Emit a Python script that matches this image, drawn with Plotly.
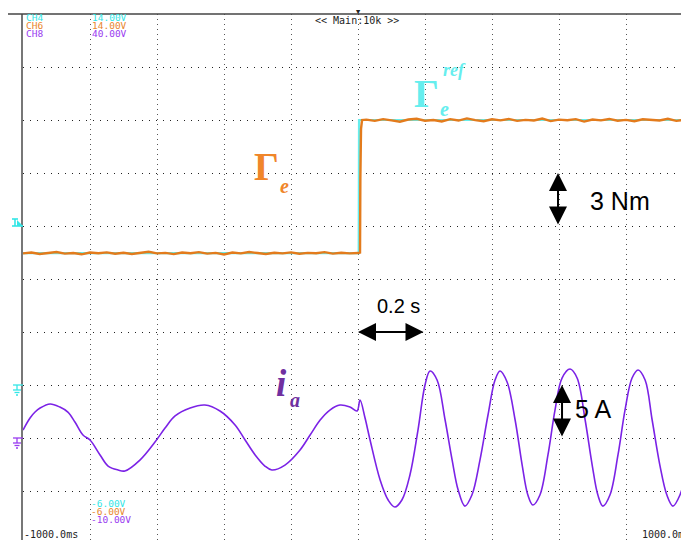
import plotly.graph_objects as go

# time base in ms (200 ms / div, 10 div); torque sampled every 25 ms
t_torque = list(range(-1000, 1, 25)) + [6, 7, 9, 12] + list(range(25, 976, 25)) + [988]
torque = ([-1.55, -1.50, -1.58, -1.52, -1.47, -1.56, -1.53, -1.60, -1.50, -1.54, -1.49,
           -1.57, -1.51, -1.58, -1.53, -1.46, -1.55, -1.52, -1.59, -1.50, -1.54, -1.48,
           -1.56, -1.52, -1.61, -1.50, -1.55, -1.47, -1.53, -1.58, -1.51, -1.55, -1.49,
           -1.57, -1.52, -1.54, -1.48, -1.56, -1.51, -1.55, -1.53]
          + [-1.50, 2.7, 5.5, 6.0]
          + [6.02, 5.95, 6.05, 5.98, 5.90, 6.03, 6.07, 5.96, 6.00, 5.92, 6.05, 5.97, 6.09,
             5.99, 5.93, 6.04, 5.98, 6.06, 5.95, 6.01, 5.97, 6.08, 5.94, 6.02, 5.99, 6.05,
             5.91, 6.03, 5.98, 6.06, 5.96, 6.01, 5.93, 6.04, 6.00, 5.97, 6.07, 5.95, 6.02,
             5.98])

t_ref = [-1000, 2, 3, 988]
torque_ref = [-1.53, -1.53, 6.0, 6.0]

t_current = [-1000, -979, -964, -949, -919, -890, -866, -845, -821, -800, -770, -746, -716,
             -696, -651, -606, -576, -546, -501, -457, -412, -367, -337, -307, -278, -257,
             -218, -173, -143, -113, -84, -54, -24, -3, 6, 21, 36, 66, 90, 110, 131, 155, 179,
             200, 215, 236, 260, 281, 299, 319, 340, 364, 388, 409, 424, 445, 469, 490, 507,
             522, 543, 567, 588, 609, 633, 654, 678, 699, 716, 731, 752, 776, 797, 818, 836,
             857, 878, 901, 922, 940, 961, 988]
current = [0.75, 1.89, 2.45, 2.83, 3.21, 2.92, 2.45, 1.51, 0.28, -0.19, -1.60, -2.64, -3.02,
           -3.11, -2.08, -0.38, 0.94, 2.08, 2.83, 3.11, 2.55, 1.23, -0.19, -1.60, -2.64, -3.02,
           -2.55, -1.13, 0.28, 1.70, 2.64, 3.11, 2.92, 2.55, 3.58, 1.89, -0.19, -3.96, -5.85,
           -6.51, -5.85, -3.49, 0.75, 5.00, 6.32, 5.47, 1.70, -2.08, -4.91, -6.42, -5.38, -2.08,
           2.17, 5.47, 6.32, 5.28, 1.70, -2.55, -5.38, -6.32, -5.38, -1.60, 2.64, 5.66, 6.51,
           5.66, 1.70, -2.55, -5.38, -6.42, -5.38, -1.60, 2.64, 5.66, 6.42, 5.47, 1.70, -2.55,
           -5.38, -6.42, -5.38, -2.08]

ch_names = ["CH4", "CH6", "CH8"]
ch_top = ["14.00V", "14.00V", "40.00V"]
ch_bottom = ["-6.00V", "-6.00V", "-10.00V"]
ch_colors = ["#33e6e6", "#e8862e", "#9a3cf0"]

# the page body adds an 8px margin, so the figure is shrunk by that much
OFF = 8
W, H = 689 - OFF, 540 - OFF
L, T = 23 - OFF, 14 - OFF


def px(x):
    return (x - OFF - L) / (W - L)


def py(y):
    return (H - (y - OFF)) / (H - T)


def label(text, x, y, size, color, family="Liberation Sans", xanchor="center"):
    return dict(text=text, x=px(x), y=py(y), xref="paper", yref="paper",
                xanchor=xanchor, yanchor="middle", showarrow=False,
                font=dict(family=family, size=size, color=color))


def seg(x0, y0, x1, y1, color, width=1.3):
    return dict(type="line", xref="paper", yref="paper", x0=px(x0), y0=py(y0),
                x1=px(x1), y1=py(y1), line=dict(color=color, width=width))


fig = go.Figure()
fig.add_trace(go.Scatter(x=t_ref, y=torque_ref, mode="lines",
                         line=dict(color="#66eeee", width=2.2), yaxis="y"))
fig.add_trace(go.Scatter(x=t_torque, y=torque, mode="lines",
                         line=dict(color="#e37b1c", width=2.4), yaxis="y"))
fig.add_trace(go.Scatter(x=t_current, y=current, mode="lines", line_shape="spline",
                         line=dict(color="#7b22e6", width=1.6), yaxis="y2"))

fig.update_layout(
    width=W, height=H,
    margin=dict(l=L, r=0, t=T, b=0, autoexpand=False),
    paper_bgcolor="white", plot_bgcolor="white",
    showlegend=False,
    xaxis=dict(range=[-1000, 988], tick0=-1000, dtick=200, showticklabels=False,
               showgrid=True, gridcolor="#555", griddash="1px,4px", gridwidth=1,
               zeroline=False, ticks=""),
    yaxis=dict(range=[-17.77, 12], tick0=0, dtick=3, showticklabels=False,
               showgrid=True, gridcolor="#222", griddash="1px,6px", gridwidth=1,
               zeroline=False, ticks="", showline=True, linecolor="#777", linewidth=2),
    yaxis2=dict(range=[-9.62, 40], overlaying="y", showgrid=False, showticklabels=False,
                zeroline=False, ticks=""),
)

shapes = [dict(type="line", xref="paper", yref="paper", x0=px(0), x1=1, y0=1, y1=1,
               line=dict(color="#444", width=1.5))]

# ground markers (CH4 cyan, CH8 purple) and trigger-level marker
for gy, col in [(385, "#33e6e6"), (438, "#9a3cf0")]:
    shapes += [
        seg(13, gy, 23, gy, col),
        seg(17, gy, 17, gy + 5, col),
        seg(13, gy + 5, 21, gy + 5, col),
        seg(14.5, gy + 7.5, 19.5, gy + 7.5, col),
        seg(16, gy + 10, 18, gy + 10, col),
    ]
shapes += [
    seg(12, 219, 18, 219, "#33e6e6", 1.6),
    seg(15, 219, 15, 226, "#33e6e6", 1.6),
    seg(12, 226, 23, 226, "#33e6e6", 1.6),
    dict(type="path", xref="paper", yref="paper", fillcolor="#33e6e6", line_width=0,
         path=f"M {px(17)} {py(226)} L {px(23)} {py(226)} L {px(17)} {py(220)} Z"),
]

ann = []
mono = "DejaVu Sans Mono"
for i, (n, top, bot, c) in enumerate(zip(ch_names, ch_top, ch_bottom, ch_colors)):
    ann.append(label(n, 24, 18 + 7.5 * i, 9.5, c, mono, "left"))
    ann.append(label(top, 90, 18 + 7.5 * i, 9.5, c, mono, "left"))
    ann.append(label(bot, 89, 503 + 8 * i, 9.5, c, mono, "left"))

ann += [
    label("<< Main:10k >>", 357, 21, 10, "#222", mono),
    label("▼", 358, 12, 7, "#222", mono),
    label("-1000.0ms", 22, 534, 10, "#222", mono, "left"),
    label("1000.0ms", 640, 534, 10, "#222", mono, "left"),
]

serif = "Liberation Serif"
ann += [
    label("<b>Γ</b>", 266, 166, 39, "#f0862a", serif),
    label("<b><i>e</i></b>", 284, 186, 20, "#f0862a", serif),
    label("<b>Γ</b>", 426, 93, 39, "#66eeee", serif),
    label("<b><i>e</i></b>", 444, 109, 20, "#66eeee", serif),
    label("<b><i>ref</i></b>", 454, 70, 18, "#66eeee", serif),
    label("<b><i>i</i></b>", 281, 383, 37, "#7030a0", serif),
    label("<b><i>a</i></b>", 295, 400, 20, "#7030a0", serif),
]

# scale arrows (1 division each)
arrow = dict(showarrow=True, arrowhead=2, arrowside="end+start", arrowsize=1.8,
             arrowwidth=2, arrowcolor="black", standoff=0, startstandoff=0, text="")
ann += [
    dict(arrow, x=597, y=3, ax=597, ay=0, xref="x", yref="y", axref="x", ayref="y"),
    dict(arrow, x=0, y=-6, ax=200, ay=-6, xref="x", yref="y", axref="x", ayref="y"),
    dict(arrow, x=609, y=5, ax=609, ay=0, xref="x", yref="y2", axref="x", ayref="y2"),
    label("3 Nm", 620, 201, 25, "black"),
    label("0.2 s", 398, 306, 20, "black"),
    label("5 A", 593, 409, 25, "black"),
]

fig.update_layout(annotations=ann, shapes=shapes)
fig.write_html("out.html")
